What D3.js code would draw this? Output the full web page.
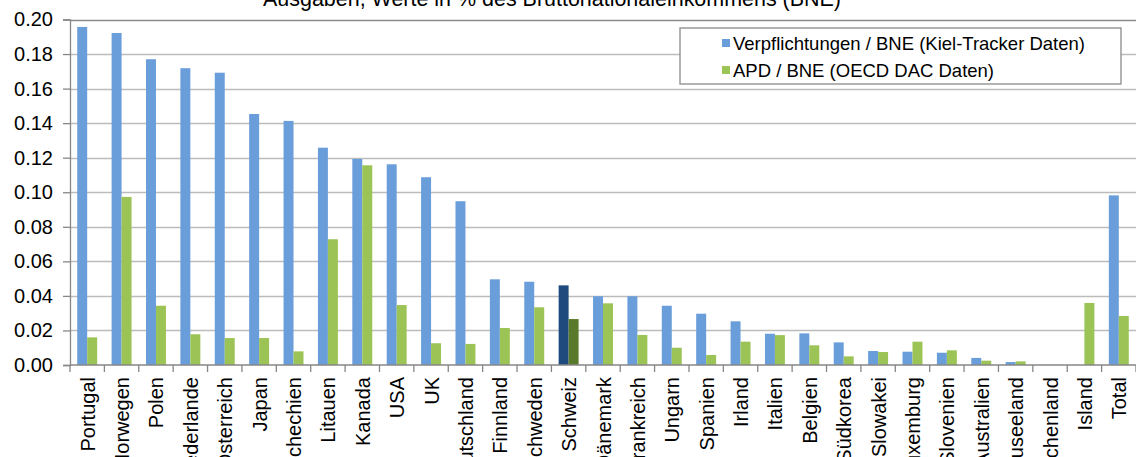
<!DOCTYPE html>
<html>
<head>
<meta charset="utf-8">
<script src="https://cdn.jsdelivr.net/npm/d3@7"></script>
<style>
  body { margin: 0; background: #fff; overflow: hidden; }
  svg { display: block; font-family: "Liberation Sans", Arial, sans-serif; }
</style>
</head>
<body>
<div id="chart"></div>
<script>
// Data
const countries = ["Portugal", "Norwegen", "Polen", "Niederlande", "Österreich", "Japan", "Tschechien",
  "Litauen", "Kanada", "USA", "UK", "Deutschland", "Finnland", "Schweden", "Schweiz", "Dänemark",
  "Frankreich", "Ungarn", "Spanien", "Irland", "Italien", "Belgien", "Südkorea", "Slowakei",
  "Luxemburg", "Slovenien", "Australien", "Neuseeland", "Griechenland", "Island", "Total"];
const commitments = [0.1957, 0.1922, 0.1770, 0.1718, 0.1692, 0.1453, 0.1413,
  0.1258, 0.1193, 0.1162, 0.1087, 0.0948, 0.0496, 0.0482, 0.0461, 0.0398,
  0.0398, 0.0343, 0.0297, 0.0253, 0.0181, 0.0183, 0.0131, 0.0081,
  0.0077, 0.0071, 0.0041, 0.0017, 0, 0, 0.0982];
const oda = [0.0160, 0.0973, 0.0343, 0.0178, 0.0156, 0.0156, 0.0079,
  0.0728, 0.1156, 0.0347, 0.0126, 0.0122, 0.0214, 0.0334, 0.0266, 0.0357,
  0.0174, 0.0100, 0.0058, 0.0135, 0.0173, 0.0114, 0.0050, 0.0075,
  0.0135, 0.0085, 0.0025, 0.0021, 0, 0.0359, 0.0284];
const seriesNames = ["Verpflichtungen / BNE (Kiel-Tracker Daten)", "APD / BNE (OECD DAC Daten)"];
const yTicks = [0, 0.02, 0.04, 0.06, 0.08, 0.10, 0.12, 0.14, 0.16, 0.18, 0.20];
const title = "Ausgaben, Werte in % des Bruttonationaleinkommens (BNE)";
const highlight = "Schweiz";

const colors = ["#6a9eda", "#9bc355"];
const darkColors = ["#1f4a7e", "#587a2a"];

const width = 1136, height = 457;
const margin = { top: 19.5, right: 0, bottom: 92, left: 70 };

const svg = d3.select("#chart").append("svg")
    .attr("width", width)
    .attr("height", height);

const x0 = d3.scaleBand()
    .domain(countries)
    .range([margin.left, width - margin.right])
    .paddingInner(0.42)
    .paddingOuter(0.21);

const x1 = d3.scaleBand()
    .domain([0, 1])
    .range([0, x0.bandwidth()]);

const y = d3.scaleLinear()
    .domain([0, 0.2])
    .range([height - margin.bottom, margin.top]);

// Gridlines
svg.append("g")
    .selectAll("line")
    .data(yTicks.slice(1))
  .join("line")
    .attr("x1", margin.left)
    .attr("x2", width)
    .attr("y1", d => Math.round(y(d)) + 0.5)
    .attr("y2", d => Math.round(y(d)) + 0.5)
    .attr("stroke", d => d === 0.2 ? "#8a8a8a" : "#bcbcbc")
    .attr("stroke-width", 1.4);

// Bars
const rows = countries.map((c, i) => ({ c, vals: [commitments[i], oda[i]] }));
svg.append("g")
  .selectAll("g")
  .data(rows)
  .join("g")
    .attr("transform", d => `translate(${x0(d.c)},0)`)
  .selectAll("rect")
  .data(d => d.vals.map((v, k) => ({ v, k, c: d.c })))
  .join("rect")
    .attr("x", d => x1(d.k))
    .attr("width", x1.bandwidth())
    .attr("y", d => y(d.v))
    .attr("height", d => y(0) - y(d.v))
    .attr("fill", d => d.c === highlight ? darkColors[d.k] : colors[d.k]);

// Y axis
const yAxis = svg.append("g")
    .attr("transform", `translate(${margin.left},0)`)
    .call(d3.axisLeft(y).tickValues(yTicks).tickFormat(d3.format(".2f")).tickSize(7).tickPadding(10));
yAxis.select(".domain").attr("stroke", "#868686").attr("stroke-width", 1.3);
yAxis.selectAll(".tick line").attr("stroke", "#868686").attr("stroke-width", 1.3);
yAxis.selectAll(".tick text")
    .attr("font-size", 20)
    .attr("fill", "#000");

// X axis: ticks at category boundaries
const step = x0.step();
const boundaries = d3.range(countries.length + 1).map(i => margin.left + i * step);
svg.append("g")
  .selectAll("line")
  .data(boundaries)
  .join("line")
    .attr("x1", d => d)
    .attr("x2", d => d)
    .attr("y1", y(0))
    .attr("y2", y(0) + 7)
    .attr("stroke", "#868686")
    .attr("stroke-width", 1.3);
svg.append("line")
    .attr("x1", margin.left)
    .attr("x2", width)
    .attr("y1", y(0))
    .attr("y2", y(0))
    .attr("stroke", "#868686")
    .attr("stroke-width", 1.3);

svg.append("g")
  .selectAll("text")
  .data(countries)
  .join("text")
    .attr("transform", d => `translate(${x0(d) + x0.bandwidth() / 2 + 7.5},${y(0) + 12}) rotate(-90)`)
    .attr("text-anchor", "end")
    .attr("font-size", 20)
    .attr("fill", "#000")
    .text(d => d);

// Title (cut off at the top edge, as in the original)
svg.append("text")
    .attr("x", 552)
    .attr("y", 6)
    .attr("text-anchor", "middle")
    .attr("font-size", 21.5)
    .attr("textLength", 578)
    .attr("lengthAdjust", "spacingAndGlyphs")
    .attr("fill", "#000")
    .text(title);

// Legend
const legend = svg.append("g").attr("transform", "translate(680,28)");
legend.append("rect")
    .attr("width", 441)
    .attr("height", 56)
    .attr("fill", "#fff")
    .attr("stroke", "#8a8a8a")
    .attr("stroke-width", 1.3);
const legendWidths = [352, 261];
seriesNames.forEach((name, k) => {
  const row = legend.append("g").attr("transform", `translate(42,${15 + k * 27})`);
  row.append("rect")
      .attr("width", 8)
      .attr("height", 8)
      .attr("y", -4)
      .attr("fill", colors[k]);
  row.append("text")
      .attr("x", 11)
      .attr("y", 7)
      .attr("font-size", 18.5)
      .attr("textLength", legendWidths[k])
      .attr("lengthAdjust", "spacingAndGlyphs")
      .attr("fill", "#000")
      .text(name);
});
</script>
</body>
</html>
